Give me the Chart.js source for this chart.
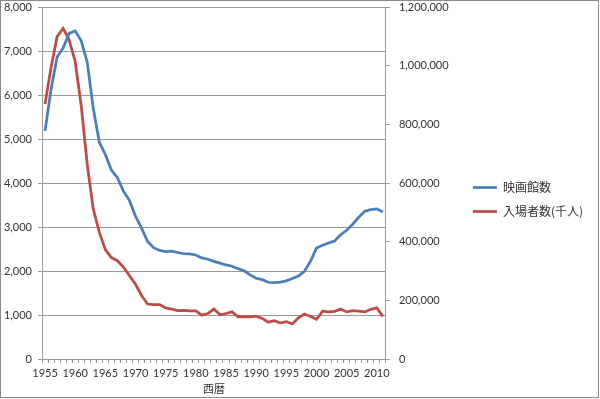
<!DOCTYPE html>
<html>
<head>
<meta charset="utf-8">
<script src="https://cdn.jsdelivr.net/npm/chart.js@4"></script>
<style>
  html, body { margin: 0; padding: 0; background: #fff; }
  #wrap { width: 600px; height: 399px; position: relative; }
</style>
</head>
<body>
<div id="wrap"><canvas id="c" width="600" height="399"></canvas></div>
<script>
const years = [1955,1956,1957,1958,1959,1960,1961,1962,1963,1964,1965,1966,1967,1968,1969,1970,1971,1972,1973,1974,1975,1976,1977,1978,1979,1980,1981,1982,1983,1984,1985,1986,1987,1988,1989,1990,1991,1992,1993,1994,1995,1996,1997,1998,1999,2000,2001,2002,2003,2004,2005,2006,2007,2008,2009,2010,2011];

const theaters = [5184,6123,6865,7067,7400,7457,7231,6742,5696,4927,4649,4296,4119,3814,3602,3246,2974,2673,2530,2468,2443,2453,2420,2392,2388,2364,2298,2268,2218,2178,2137,2109,2053,2005,1912,1836,1804,1744,1734,1747,1776,1828,1884,1993,2221,2524,2585,2635,2681,2825,2926,3062,3221,3359,3396,3412,3339];

const attendance = [868912,993875,1098882,1127452,1088111,1014364,863430,662279,511121,431454,372676,345811,335067,313398,283980,254799,216754,187388,185738,185663,174020,170019,165000,166042,163970,164422,149450,155280,170043,150527,155130,160758,143935,144825,143573,146000,138330,125600,130720,122990,127040,119575,140719,153102,144762,135390,163280,160767,162347,170092,160453,164585,163193,160491,169297,174358,144726];

const seriesNames = ['映画館数', '入場者数(千人)'];
const xTitle = '西暦';
const leftTicks = [0,1000,2000,3000,4000,5000,6000,7000,8000];
const rightTicks = [0,200000,400000,600000,800000,1000000,1200000];

const tickFont = { family: 'Lato, "Noto Sans CJK JP", sans-serif', size: 11 };
const txt = '#333';
const gridCol = '#9a9a9a';

const borderPlugin = {
  id: 'outerBorder',
  beforeDraw(chart) {
    const ctx = chart.ctx;
    ctx.save();
    ctx.fillStyle = '#fff';
    ctx.fillRect(0, 0, chart.width, chart.height);
    ctx.restore();
  },
  afterDraw(chart) {
    const ctx = chart.ctx;
    ctx.save();
    ctx.strokeStyle = '#8a8a8a';
    ctx.lineWidth = 1;
    ctx.strokeRect(0.5, 0.5, chart.width - 2, chart.height - 2);
    ctx.restore();
  }
};

function fixPad(scale) { scale.paddingTop = 7; scale.paddingBottom = 7; }

new Chart(document.getElementById('c'), {
  type: 'line',
  data: {
    labels: years,
    datasets: [
      { label: seriesNames[0], data: theaters, yAxisID: 'y', borderColor: '#4A7EBB', backgroundColor: '#4A7EBB', borderWidth: 2.75, pointRadius: 0, tension: 0 },
      { label: seriesNames[1], data: attendance, yAxisID: 'y2', borderColor: '#BE4B48', backgroundColor: '#BE4B48', borderWidth: 2.75, pointRadius: 0, tension: 0 }
    ]
  },
  options: {
    responsive: false,
    animation: false,
    devicePixelRatio: 1,
    layout: { padding: { left: 0, right: 7, top: 0, bottom: 0 } },
    plugins: {
      legend: {
        position: 'right',
        maxWidth: 220,
        labels: {
          usePointStyle: true,
          pointStyle: 'line',
          pointStyleWidth: 24,
          boxWidth: 24,
          padding: 12,
          color: txt,
          font: { family: '"Noto Sans CJK JP", Lato, sans-serif', size: 12 }
        }
      },
      tooltip: { enabled: false }
    },
    scales: {
      x: {
        type: 'category',
        offset: true,
        grid: { display: true, offset: true, drawOnChartArea: false, drawTicks: true, tickLength: 4, color: gridCol },
        border: { color: gridCol },
        ticks: {
          autoSkip: false, maxRotation: 0, minRotation: 0, padding: 4, color: txt, font: tickFont,
          callback: function(v, i) { const y = years[i]; return (y % 5 === 0) ? String(y) : ''; }
        },
        title: { display: true, text: xTitle, color: txt, font: tickFont, padding: { top: 0, bottom: 3 } },
        afterFit(scale) { scale.height = 40; }
      },
      y: {
        position: 'left',
        min: 0, max: 8000,
        afterBuildTicks(scale) { scale.ticks = leftTicks.map(v => ({ value: v })); },
        grid: { color: gridCol, tickLength: 4 },
        border: { color: gridCol },
        ticks: { padding: 6, color: txt, font: tickFont, callback: v => v.toLocaleString('en-US') },
        afterFit(scale) { scale.width = 42; fixPad(scale); }
      },
      y2: {
        position: 'right',
        min: 0, max: 1200000,
        afterBuildTicks(scale) { scale.ticks = rightTicks.map(v => ({ value: v })); },
        grid: { drawOnChartArea: false, color: gridCol, tickLength: 4 },
        border: { color: gridCol },
        ticks: { padding: 9, color: txt, font: tickFont, callback: v => v.toLocaleString('en-US') },
        afterFit(scale) { scale.width = 75; fixPad(scale); }
      }
    }
  },
  plugins: [borderPlugin]
});
</script>
</body>
</html>
